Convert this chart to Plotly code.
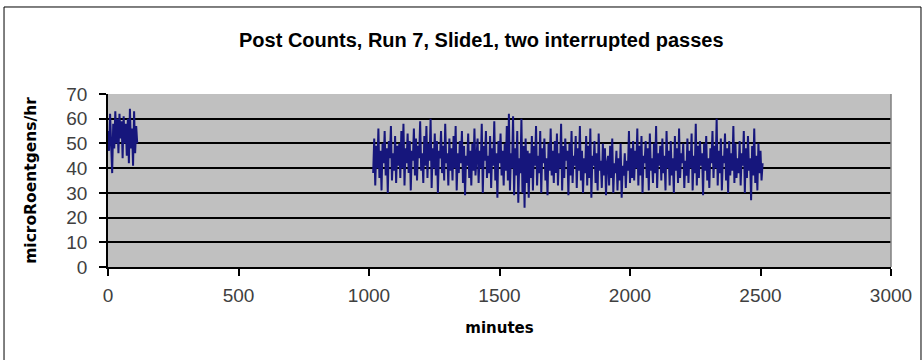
import plotly.graph_objects as go

# Sampling: one reading every 4 minutes
SAMPLE_STEP = 4

# First pass (starts at minute 0)
pass1_start = 0
pass1_counts = [55, 47, 62, 44, 38, 58, 48, 63, 50, 60, 46, 62, 52, 59, 44,
                61, 50, 58, 45, 60, 42, 64, 48, 56, 41, 63, 46, 57, 50]

# Second pass (starts at minute 1016)
pass2_start = 1016
pass2_counts = [
    38, 52, 33, 49, 40, 56, 36, 47, 31, 50, 42, 55, 37, 48, 30, 51, 44, 57, 35, 46, 39, 53, 34, 49, 41,
    50, 36, 55, 40, 58, 33, 48, 42, 54, 38, 51, 31, 47, 43, 56, 37, 52, 35, 49, 44, 59, 39, 46, 34, 53,
    41, 57, 36, 50, 43, 60, 32, 48, 40, 54, 37, 51, 30, 47, 44, 55, 38, 49, 35, 58, 42, 46, 33, 52, 39,
    48, 35, 53, 40, 57, 31, 46, 38, 51, 42, 55, 34, 49, 29, 45, 41, 54, 36, 47, 33, 50, 39, 56, 37, 44,
    52, 34, 47, 40, 58, 30, 49, 43, 55, 36, 45, 38, 53, 32, 48, 41, 59, 35, 46, 28, 51, 42, 54, 37, 47,
    33, 50, 39, 57, 35, 62, 31, 46, 40, 61, 29, 48, 37, 55, 26, 44, 38, 60, 30, 49, 24, 52, 34, 47, 28,
    46, 36, 53, 31, 49, 41, 57, 33, 45, 38, 55, 30, 48, 42, 52, 35, 44, 29, 50, 39, 56, 37, 47, 34, 51,
    38, 54, 33, 46, 40, 58, 31, 49, 36, 52, 43, 47, 29, 50, 37, 55, 34, 45, 41, 53, 32, 48, 39, 57, 35,
    47, 30, 44, 38, 53, 33, 49, 36, 56, 28, 45, 41, 51, 34, 46, 31, 54, 39, 43, 32, 50, 37, 48, 29, 42,
    45, 33, 49, 36, 52, 30, 42, 38, 47, 31, 44, 35, 50, 28, 41, 37, 46, 32, 43, 39, 55, 34, 48, 36, 51,
    35, 47, 40, 56, 33, 49, 37, 53, 30, 45, 42, 51, 36, 48, 31, 54, 39, 44, 34, 50, 38, 57, 32, 46, 41,
    49, 35, 52, 38, 45, 31, 55, 40, 47, 33, 51, 37, 44, 30, 53, 39, 48, 34, 56, 36, 46, 42, 50, 32, 43,
    37, 52, 34, 47, 40, 54, 31, 45, 38, 58, 33, 49, 36, 51, 41, 46, 29, 50, 39, 53, 35, 44, 32, 48, 42,
    55, 36, 49, 40, 60, 33, 47, 38, 52, 31, 45, 42, 54, 35, 48, 30, 51, 37, 46, 39, 57, 34, 50, 36, 44,
    38, 51, 33, 46, 41, 55, 30, 48, 36, 53, 39, 44, 27, 49, 37, 56, 34, 45, 31, 50, 38, 47, 35, 42,
]

x_ticks = [0, 500, 1000, 1500, 2000, 2500, 3000]
y_ticks = [0, 10, 20, 30, 40, 50, 60, 70]

pass1_minutes = [pass1_start + SAMPLE_STEP * i for i in range(len(pass1_counts))]
pass2_minutes = [pass2_start + SAMPLE_STEP * i for i in range(len(pass2_counts))]

LINE_COLOR = "#16167c"
TICK_FONT = dict(family="Liberation Sans, Arial", size=19, color="#404040")
TITLE_FONT = dict(family="DejaVu Sans", size=15, color="#000000")

fig = go.Figure()
for xs, ys in ((pass1_minutes, pass1_counts), (pass2_minutes, pass2_counts)):
    fig.add_trace(go.Scatter(x=xs, y=ys, mode="lines",
                             line=dict(color=LINE_COLOR, width=2),
                             showlegend=False, hoverinfo="skip"))

fig.update_layout(
    width=924, height=360,
    margin=dict(l=108, r=33, t=94, b=93, autoexpand=False),
    paper_bgcolor="#ffffff",
    plot_bgcolor="#c0c0c0",
    showlegend=False,
    annotations=[
        dict(text="<b>Post Counts, Run 7, Slide1, two interrupted passes</b>",
             xref="paper", yref="paper", x=0.4776, y=1.312,
             xanchor="center", yanchor="middle", showarrow=False,
             font=dict(family="Liberation Sans, Arial", size=20, color="#000000")),
    ],
    shapes=[
        # outer chart frame
        dict(type="rect", xref="paper", yref="paper",
             x0=-0.1328, x1=1.0383, y0=-0.7, y1=1.5029,
             line=dict(color="#000000", width=1), fillcolor="rgba(0,0,0,0)", layer="below"),
        # right edge of the plot area
        dict(type="line", xref="paper", yref="paper", x0=1, x1=1, y0=0, y1=1,
             line=dict(color="#808080", width=1.5)),
    ],
)

fig.update_xaxes(
    range=[0, 3000], tickvals=x_ticks, ticktext=[str(v) for v in x_ticks],
    showgrid=False, zeroline=False,
    showline=True, linecolor="#000000", linewidth=1.5,
    ticks="outside", ticklen=7, tickcolor="#000000", tickwidth=1.5,
    tickfont=TICK_FONT, ticklabelstandoff=3,
    title=dict(text="<b>minutes</b>", font=TITLE_FONT, standoff=18),
)
fig.update_yaxes(
    range=[0, 70], tickvals=y_ticks, ticktext=[str(v) for v in y_ticks],
    showgrid=True, gridcolor="#000000", gridwidth=1.5, zeroline=False,
    showline=True, linecolor="#000000", linewidth=1.5,
    ticks="outside", ticklen=7, tickcolor="#000000", tickwidth=1.5,
    tickfont=TICK_FONT, ticklabelstandoff=8,
    title=dict(text="<b>microRoentgens/hr</b>",
               font=dict(family="DejaVu Sans", size=15.5, color="#000000"), standoff=26),
)

fig.write_html("out.html", config={"displayModeBar": False})
